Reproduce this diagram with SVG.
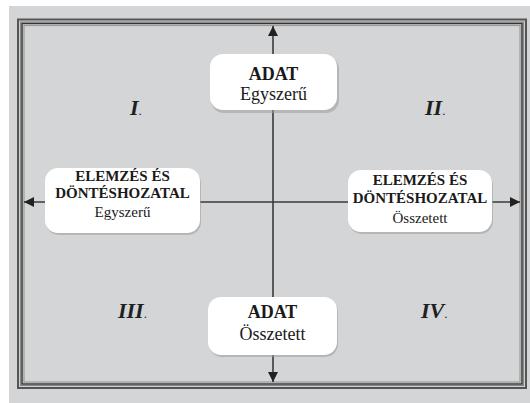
<svg xmlns="http://www.w3.org/2000/svg" width="530" height="403" viewBox="0 0 530 403">
<defs>
<style>
.bg{fill:#d4d5d7}
.box{fill:#ffffff}
.shadow{fill:#9c9c9c;opacity:0.55}
.axis{stroke:#3a3a3a;stroke-width:1.6;fill:none}
.t{font-family:"Liberation Serif","Times New Roman",serif;fill:#1a1a1a;text-anchor:middle}
.b{font-weight:bold}
.num{font-family:"Liberation Serif","Times New Roman",serif;font-weight:bold;font-style:italic;font-size:22px;fill:#1f1f1f}
.dot{font-weight:normal;font-style:normal;font-size:13px}
</style>
<marker id="arr" viewBox="0 0 10 10" refX="10" refY="5" markerWidth="10" markerHeight="10" markerUnits="userSpaceOnUse" orient="auto">
<path d="M0,0 L10,5 L0,10 Z" fill="#222"/>
</marker>
</defs>
<rect class="bg" x="9" y="6" width="521" height="397"/>
<g id="frame" fill="none">
<rect x="18" y="19.5" width="508" height="368.5" stroke="#555" stroke-width="2"/>
<rect x="20.5" y="22" width="503" height="363.5" stroke="#8a8a8a" stroke-width="1.2"/>
<rect x="22" y="23.5" width="500" height="360.5" stroke="#333" stroke-width="1.4"/>
<rect x="24" y="25.5" width="496" height="356.5" stroke="#9a9a9a" stroke-width="1.2"/>
</g>
<g id="connectors">
<line class="axis" x1="273" y1="202" x2="273" y2="26" marker-end="url(#arr)"/>
<line class="axis" x1="273" y1="202" x2="273" y2="382" marker-end="url(#arr)"/>
<line class="axis" x1="273" y1="202" x2="24" y2="202" marker-end="url(#arr)"/>
<line class="axis" x1="273" y1="202" x2="520" y2="202" marker-end="url(#arr)"/>
</g>
<g id="node-top">
<rect class="shadow" x="211" y="56" width="128" height="57" rx="13"/>
<rect class="box" x="210" y="54" width="127" height="56" rx="13"/>
<text class="t b" x="273.5" y="80" font-size="18">ADAT</text>
<text class="t" x="273.5" y="100" font-size="18">Egyszerű</text>
</g>
<g id="node-bottom">
<rect class="shadow" x="209" y="299" width="129" height="58" rx="13"/>
<rect class="box" x="208" y="297" width="129" height="58" rx="13"/>
<text class="t b" x="272.5" y="318" font-size="18">ADAT</text>
<text class="t" x="272.5" y="340" font-size="18">Összetett</text>
</g>
<g id="node-left">
<rect class="shadow" x="46" y="170" width="155" height="65" rx="13"/>
<rect class="box" x="45" y="168" width="155" height="65" rx="13"/>
<text class="t b" x="122.5" y="181" font-size="15">ELEMZÉS ÉS</text>
<text class="t b" x="122.5" y="198" font-size="15">DÖNTÉSHOZATAL</text>
<text class="t" x="122.5" y="217" font-size="15">Egyszerű</text>
</g>
<g id="node-right">
<rect class="shadow" x="349" y="172" width="144" height="62" rx="13"/>
<rect class="box" x="348" y="170" width="144" height="62" rx="13"/>
<text class="t b" x="420" y="185" font-size="15">ELEMZÉS ÉS</text>
<text class="t b" x="420" y="203" font-size="15">DÖNTÉSHOZATAL</text>
<text class="t" x="420" y="223" font-size="15">Összetett</text>
</g>
<g id="quadrants">
<text class="num" x="130" y="115">I<tspan class="dot">.</tspan></text>
<text class="num" x="425" y="115">II<tspan class="dot">.</tspan></text>
<text class="num" x="118" y="318">III<tspan class="dot">.</tspan></text>
<text class="num" x="421" y="318">IV<tspan class="dot">.</tspan></text>
</g>
</svg>
